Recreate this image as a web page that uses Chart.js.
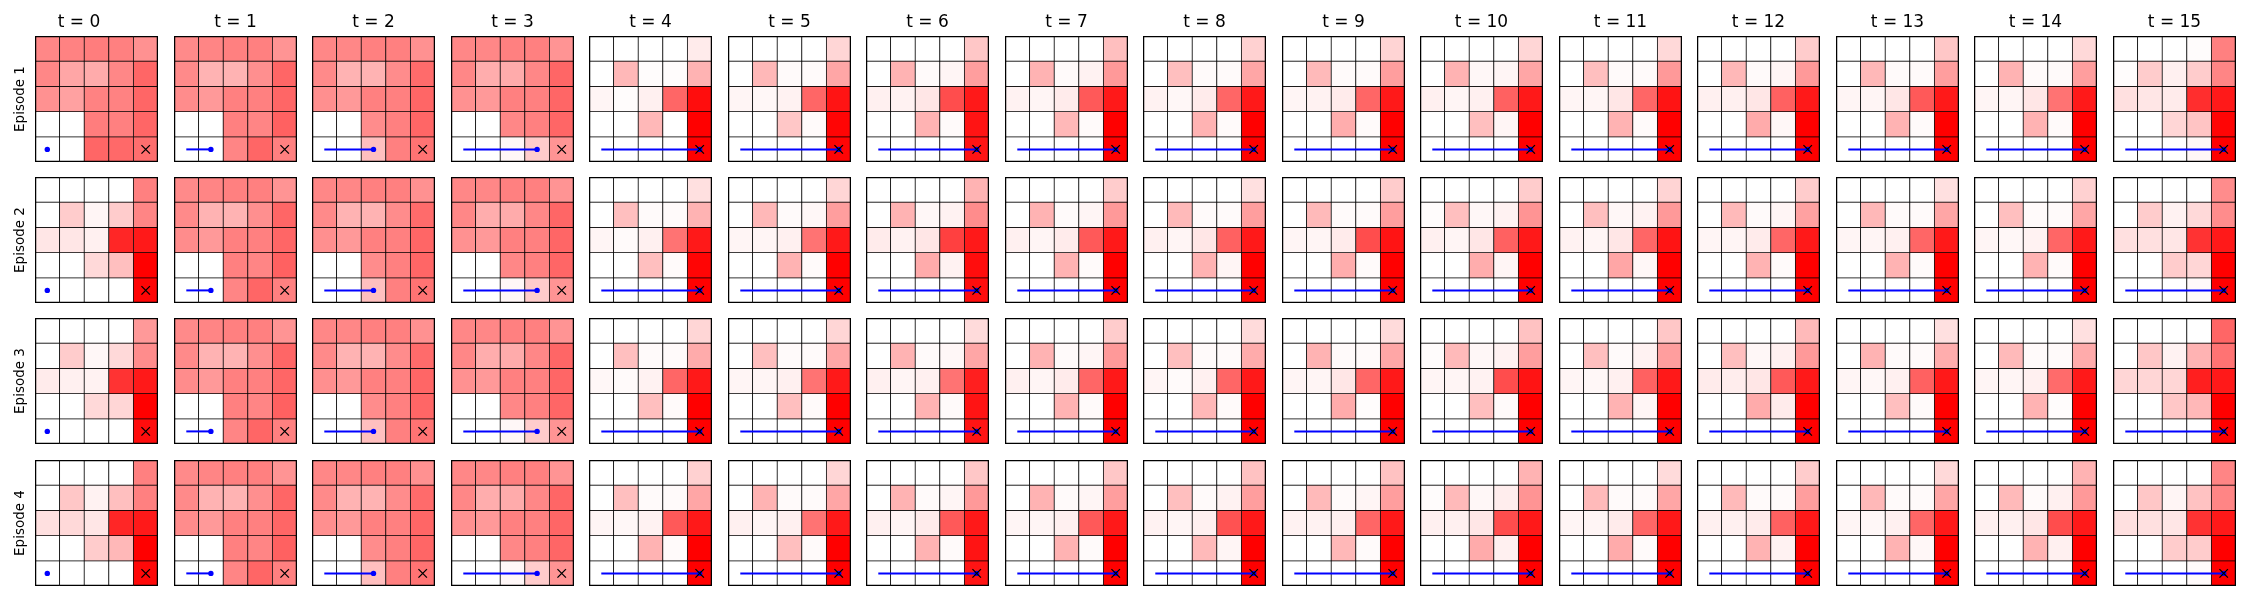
<!DOCTYPE html>
<html lang="en">
<head>
  <meta charset="UTF-8">
  <script src="https://cdn.jsdelivr.net/npm/chart.js"></script>
  <title>Episodes</title>
  <style>
    body { margin: 0; background: #fff; }
    #board { position: relative; width: 2250px; height: 600px; }
    #board canvas { position: absolute; }
  </style>
</head>
<body>
<div id="board"></div>
<script>
const stepLabels = ['t = 0', 't = 1', 't = 2', 't = 3', 't = 4', 't = 5', 't = 6', 't = 7',
  't = 8', 't = 9', 't = 10', 't = 11', 't = 12', 't = 13', 't = 14', 't = 15'];
const episodeLabels = ['Episode 1', 'Episode 2', 'Episode 3', 'Episode 4'];
const colLabels = ['0', '1', '2', '3', '4'];
// agent column at each step, agent walks along the bottom row
const agentCol = [0, 1, 2, 3, 4, 4, 4, 4, 4, 4, 4, 4, 4, 4, 4, 4];
const agentRow = 4;
const goalCol = 4;
const goalRow = 4;

// grids: 5 rows (top first) x 5 columns, red intensity 0..1
const sharedT1 = [[.46,.48,.5,.5,.42],[.46,.3,.3,.44,.6],[.45,.4,.5,.5,.6],[0,0,.5,.48,.62],[0,0,.48,.6,.5]];
const sharedT2 = [[.47,.47,.5,.5,.43],[.46,.3,.3,.45,.58],[.44,.4,.5,.5,.6],[0,0,.45,.5,.6],[0,0,.25,.5,.55]];
const sharedT3 = [[.47,.47,.5,.5,.42],[.47,.32,.33,.47,.6],[.43,.4,.5,.5,.6],[0,0,.47,.5,.6],[0,0,.03,.2,.42]];

const episode1 = [
  [[.47,.49,.51,.5,.43],[.47,.35,.33,.47,.6],[.43,.37,.49,.49,.6],[0,0,.51,.5,.6],[0,0,.6,.59,.57]],
  sharedT1, sharedT2, sharedT3,
  [[0,0,0,0,.08],[0,.28,.01,.01,.3],[.04,.01,.06,.6,.95],[0,0,.28,0,1],[0,0,0,0,1]],
  [[0,0,0,0,.16],[0,.28,.02,.02,.35],[.04,.03,.05,.6,.92],[0,0,.22,.02,.98],[0,0,0,0,.98]],
  [[0,0,0,0,.22],[0,.3,.02,.04,.38],[.06,.05,.1,.7,.9],[0,0,.3,.02,.92],[0,0,0,0,.92]],
  [[0,0,0,0,.25],[0,.3,.02,.05,.4],[.05,.04,.08,.65,.9],[0,0,.28,.02,1],[0,0,0,0,1]],
  [[0,0,0,0,.18],[0,.25,.02,.02,.35],[.05,.03,.08,.6,.9],[0,0,.3,.02,1],[0,0,0,0,1]],
  [[0,0,0,0,.17],[0,.27,.02,.02,.38],[.04,.05,.08,.6,.9],[0,0,.32,.02,1],[0,0,0,0,1]],
  [[0,0,0,0,.16],[0,.3,.03,.04,.35],[.06,.04,.06,.62,.9],[0,0,.25,.04,1],[0,0,0,0,1]],
  [[0,0,0,0,.15],[0,.25,.02,.02,.4],[.04,.04,.1,.6,.92],[0,0,.3,.02,1],[0,0,0,0,1]],
  [[0,0,0,0,.2],[0,.28,.02,.04,.4],[.06,.06,.1,.62,.9],[0,0,.33,.03,1],[0,0,0,0,1]],
  [[0,0,0,0,.22],[0,.28,.02,.02,.38],[.04,.04,.1,.65,.9],[0,0,.3,.02,1],[0,0,0,0,1]],
  [[0,0,0,0,.15],[0,.3,.02,.02,.38],[.04,.04,.1,.55,.9],[0,0,.3,.02,1],[0,0,0,0,1]],
  [[0,0,0,.01,.5],[.01,.2,.06,.2,.48],[.12,.1,.08,.82,.9],[0,0,.16,.23,.98],[0,0,0,.03,1]]
];
const episode2 = [
  [[0,0,0,0,.5],[0,.2,.04,.2,.48],[.1,.1,.06,.85,.9],[0,0,.15,.25,1],[0,0,0,0,.98]],
  sharedT1, sharedT2, sharedT3,
  [[0,0,0,0,.12],[0,.25,.02,.02,.3],[.04,.02,.06,.55,.9],[0,0,.25,.02,.98],[0,0,0,0,1]],
  [[0,0,0,0,.16],[0,.28,.02,.03,.38],[.04,.04,.06,.55,.9],[0,0,.3,.02,1],[0,0,0,0,1]],
  [[0,0,0,0,.3],[0,.3,.03,.05,.45],[.08,.05,.1,.75,.9],[0,0,.33,.05,.95],[0,0,0,0,.95]],
  [[0,0,0,0,.2],[0,.3,.02,.04,.4],[.06,.04,.08,.65,.9],[0,0,.3,.02,1],[0,0,0,0,1]],
  [[0,0,0,0,.12],[0,.27,.02,.02,.38],[.06,.04,.1,.62,.9],[0,0,.3,.04,1],[0,0,0,0,1]],
  [[0,0,0,0,.2],[0,.27,.02,.02,.38],[.04,.04,.08,.7,.92],[0,0,.32,.02,1],[0,0,0,0,1]],
  [[0,0,0,0,.2],[.01,.25,.03,.05,.42],[.06,.04,.1,.62,.9],[0,0,.32,.04,1],[0,0,0,0,1]],
  [[0,0,0,0,.17],[0,.25,.03,.05,.4],[.05,.04,.1,.6,.92],[0,0,.35,.03,1],[0,0,0,0,1]],
  [[0,0,0,0,.2],[0,.27,.02,.04,.37],[.04,.04,.08,.6,.9],[0,0,.3,.02,1],[0,0,0,0,1]],
  [[0,0,0,0,.12],[0,.28,.02,.02,.35],[.04,.04,.06,.6,.9],[0,0,.3,.02,1],[0,0,0,0,1]],
  [[0,0,0,0,.18],[0,.25,.02,.02,.35],[.04,.03,.05,.6,.9],[0,0,.3,.02,1],[0,0,0,0,1]],
  [[0,0,0,0,.45],[0,.2,.05,.15,.45],[.12,.12,.1,.8,.9],[0,0,.2,.16,1],[0,0,0,.02,1]]
];
const episode3 = [
  [[0,0,0,0,.4],[0,.2,.03,.15,.45],[.08,.06,.05,.8,.9],[0,0,.15,.16,1],[0,0,0,0,.95]],
  sharedT1, sharedT2, sharedT3,
  [[0,0,0,0,.16],[0,.25,.02,.02,.33],[.03,.02,.05,.6,.9],[0,0,.25,.02,1],[0,0,0,0,1]],
  [[0,0,0,0,.16],[0,.25,.02,.02,.35],[.04,.04,.06,.55,.9],[0,0,.25,.02,1],[0,0,0,0,1]],
  [[0,0,0,0,.14],[0,.3,.02,.03,.35],[.06,.04,.06,.55,.88],[0,0,.3,.02,.92],[0,0,0,0,.92]],
  [[0,0,0,0,.2],[0,.3,.02,.04,.4],[.06,.04,.08,.6,.9],[0,0,.3,.02,1],[0,0,0,0,1]],
  [[0,0,0,0,.14],[0,.25,.02,.02,.33],[.04,.02,.06,.6,.9],[0,0,.28,.02,1],[0,0,0,0,1]],
  [[0,0,0,0,.14],[0,.3,.02,.02,.35],[.04,.04,.1,.6,.9],[0,0,.33,.01,1],[0,0,0,0,1]],
  [[0,0,0,0,.24],[.01,.27,.03,.05,.38],[.04,.04,.05,.7,.92],[0,0,.25,.02,1],[0,0,0,0,1]],
  [[0,0,0,0,.22],[0,.25,.02,.05,.38],[.04,.03,.06,.62,.9],[0,0,.3,.04,1],[0,0,0,0,1]],
  [[0,0,0,0,.27],[0,.25,.03,.06,.4],[.08,.07,.1,.65,.9],[0,0,.33,.08,1],[0,0,0,0,1]],
  [[0,0,0,0,.12],[0,.3,.02,.02,.32],[.04,.03,.06,.62,.9],[0,0,.25,.02,1],[0,0,0,0,1]],
  [[0,0,0,0,.12],[0,.27,.02,.02,.33],[.04,.04,.06,.58,.9],[0,0,.3,.01,1],[0,0,0,0,1]],
  [[0,0,0,0,.6],[0,.22,.05,.3,.55],[.16,.16,.16,.88,.9],[0,0,.22,.28,1],[0,0,0,0,1]]
];
const episode4 = [
  [[0,0,0,0,.5],[0,.22,.05,.25,.5],[.12,.15,.1,.85,.9],[0,0,.2,.28,1],[0,0,0,0,.97]],
  sharedT1, sharedT2, sharedT3,
  [[0,0,0,0,.18],[0,.25,.02,.02,.35],[.04,.03,.05,.65,.9],[0,0,.3,.02,1],[0,0,0,0,1]],
  [[0,0,0,0,.16],[0,.3,.02,.02,.35],[.06,.04,.06,.55,.9],[0,0,.25,.02,1],[0,0,0,0,1]],
  [[0,0,0,0,.22],[0,.3,.02,.04,.4],[.06,.04,.08,.65,.9],[0,0,.3,.02,.92],[0,0,0,0,.92]],
  [[0,0,0,0,.22],[0,.3,.02,.04,.38],[.04,.04,.06,.65,.9],[0,0,.3,.02,1],[0,0,0,0,1]],
  [[0,0,0,0,.24],[0,.25,.02,.05,.38],[.05,.04,.06,.68,.9],[0,0,.27,.04,1],[0,0,0,0,1]],
  [[0,0,0,0,.24],[0,.27,.02,.04,.38],[.05,.05,.06,.6,.9],[0,0,.28,.02,1],[0,0,0,0,1]],
  [[0,0,0,0,.3],[.01,.27,.03,.07,.42],[.06,.06,.1,.7,.9],[0,0,.33,.06,1],[0,0,0,0,1]],
  [[0,0,0,0,.14],[0,.27,.02,.02,.35],[.04,.04,.08,.6,.9],[0,0,.33,.02,1],[0,0,0,0,1]],
  [[0,0,0,0,.2],[0,.27,.02,.02,.38],[.06,.06,.08,.62,.9],[0,0,.3,.05,1],[0,0,0,0,1]],
  [[0,0,0,0,.15],[0,.28,.02,.02,.35],[.04,.03,.06,.6,.9],[0,0,.3,.03,1],[0,0,0,0,1]],
  [[0,0,0,0,.3],[0,.27,.02,.06,.4],[.06,.06,.1,.7,.9],[0,0,.3,.06,1],[0,0,0,0,1]],
  [[0,0,0,0,.48],[0,.22,.04,.24,.48],[.12,.12,.1,.8,.9],[0,0,.2,.2,1],[0,0,0,.02,1]]
];
const episodes = [episode1, episode2, episode3, episode4];

const panelLeft = 35, pitchX = 138.5, panelW = 123, panelH = 126;
const panelTop = [36, 177, 318, 460];
const board = document.getElementById('board');

function cellColor(v) {
  const g = Math.round(255 * (1 - v));
  return 'rgb(255,' + g + ',' + g + ')';
}

function drawPanel(grid, ep, t) {
  const padL = t === 0 ? 35 : 3, padT = ep === 0 ? 36 : 3, padR = 4, padB = 4;
  const canvas = document.createElement('canvas');
  canvas.width = padL + panelW + padR;
  canvas.height = padT + panelH + padB;
  canvas.style.left = (Math.round(panelLeft + pitchX * t) - padL) + 'px';
  canvas.style.top = (panelTop[ep] - padT) + 'px';
  board.appendChild(canvas);

  const cells = grid.map((row, r) => ({
    type: 'bar',
    data: row.map(() => [4 - r, 5 - r]),
    backgroundColor: row.map(cellColor),
    borderColor: '#000',
    borderWidth: ctx => ({
      left: ctx.dataIndex === 0 ? 1.6 : 0.75,
      right: ctx.dataIndex === 4 ? 1.6 : 0.75,
      top: r === 0 ? 1.6 : 0.75,
      bottom: r === 4 ? 1.6 : 0.75
    }),
    borderSkipped: false,
    grouped: false,
    barPercentage: 1,
    categoryPercentage: 1,
    order: 3
  }));

  const path = {
    type: 'line',
    data: colLabels.map((_, c) => c <= agentCol[t] ? 4 - agentRow + 0.5 : null),
    borderColor: '#0000ff',
    borderWidth: 2,
    pointRadius: ctx => ctx.dataIndex === agentCol[t] ? 2.7 : 0,
    pointBackgroundColor: '#0000ff',
    pointBorderWidth: 0,
    order: 1
  };

  const goal = {
    type: 'line',
    data: colLabels.map((_, c) => c === goalCol ? 4 - goalRow + 0.5 : null),
    showLine: false,
    pointStyle: 'crossRot',
    pointRadius: 6,
    pointBorderColor: '#000',
    pointBorderWidth: 1.3,
    order: 0
  };

  new Chart(canvas.getContext('2d'), {
    data: { labels: colLabels, datasets: [goal, path].concat(cells) },
    options: {
      responsive: false,
      animation: false,
      events: [],
      layout: {
        autoPadding: false,
        padding: { left: t === 0 ? 0 : padL, top: ep === 0 ? 0 : padT, right: padR, bottom: padB }
      },
      plugins: {
        legend: { display: false },
        tooltip: { enabled: false },
        title: {
          display: ep === 0,
          text: stepLabels[t],
          color: '#000',
          font: { family: 'DejaVu Sans', size: 17, weight: 'normal', lineHeight: 1.2 },
          padding: { top: 12.4, bottom: 3.2 }
        }
      },
      scales: {
        x: { type: 'category', display: false, offset: true },
        y: {
          min: 0, max: 5,
          display: t === 0,
          grid: { display: false, drawTicks: false },
          border: { display: false },
          ticks: { display: false },
          title: {
            display: true,
            text: episodeLabels[ep],
            color: '#000',
            font: { family: 'DejaVu Sans', size: 13.5, lineHeight: 1.2 },
            padding: { top: 11.9, bottom: 6.9 }
          }
        }
      }
    }
  });
}

episodes.forEach((ep, i) => ep.forEach((grid, t) => drawPanel(grid, i, t)));
</script>
</body>
</html>
